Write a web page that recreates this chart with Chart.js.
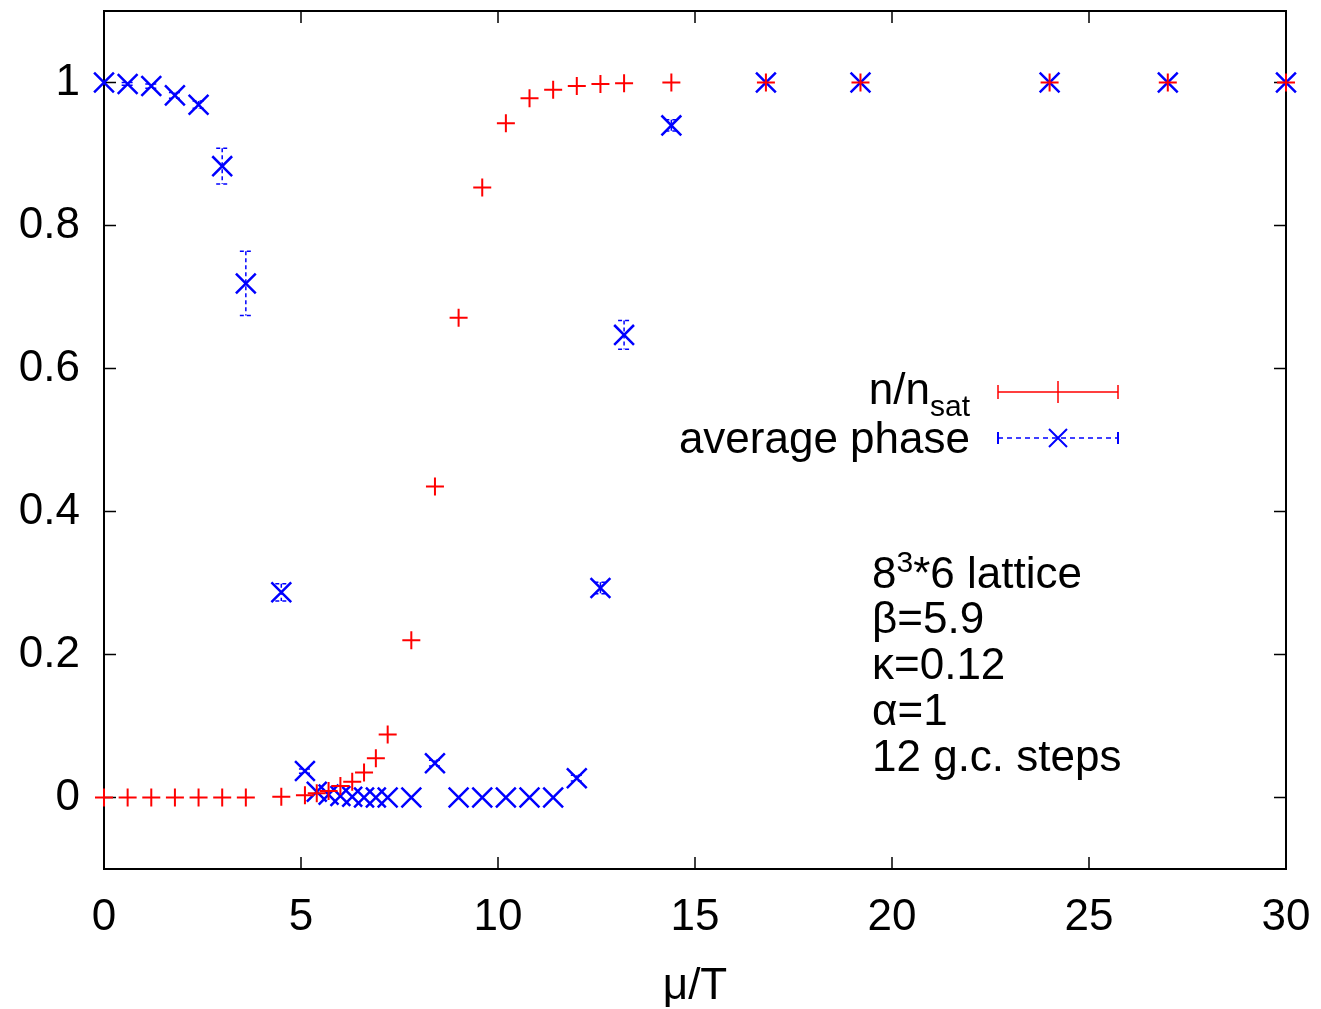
<!DOCTYPE html>
<html>
<head>
<meta charset="utf-8">
<script src="https://cdn.jsdelivr.net/npm/chart.js@4/dist/chart.umd.min.js"></script>
<style>
  html, body { margin: 0; padding: 0; background: #fff; }
  #wrap { width: 1321px; height: 1009px; }
</style>
</head>
<body>
<div id="wrap"><canvas id="myChart" width="1321" height="1009"></canvas></div>
<script>
// mu/T values (shared by both series)
const muT = [0, 0.6, 1.2, 1.8, 2.4, 3.0, 3.6, 4.5, 5.1, 5.4, 5.7, 6.0, 6.3, 6.6, 6.9, 7.2,
  7.8, 8.4, 9.0, 9.6, 10.2, 10.8, 11.4, 12.0, 12.6, 13.2, 14.4, 16.8, 19.2, 24, 27, 30]

// n / n_sat
const nRatio = [0, 0, 0, 0, 0, 0, 0, 0.001, 0.003, 0.006, 0.009, 0.016, 0.022, 0.035, 0.055, 0.088,
  0.22, 0.435, 0.671, 0.853, 0.943, 0.978, 0.99, 0.995, 0.998, 0.999, 1, 1, 1, 1, 1, 1]

// average phase and its error
const avgPhase = [1.0, 0.998, 0.995, 0.982, 0.969, 0.883, 0.719, 0.287, 0.037, 0.008, 0.004, 0.002, 0.001, 0, 0, 0,
  0, 0.048, 0, 0, 0, 0, 0, 0.027, 0.293, 0.647, 0.94, 1, 1, 1, 1, 1]
const phaseErr = [0, 0.002, 0.003, 0.004, 0.005, 0.025, 0.045, 0.012, 0.003, 0, 0, 0, 0, 0, 0, 0,
  0, 0.004, 0, 0, 0, 0, 0, 0.004, 0.008, 0.02, 0.008, 0, 0, 0, 0, 0]

const xTicks = [0, 5, 10, 15, 20, 25, 30]
const yTicks = [0, 0.2, 0.4, 0.6, 0.8, 1]

const infoLines = ['β=5.9', 'κ=0.12', 'α=1', '12 g.c. steps']

const RED = 'rgb(255,0,0)'
const BLUE = 'rgb(0,0,255)'
const FONT = '"Liberation Sans", Arial, Helvetica, sans-serif'

const toPoints = (ys) => muT.map((x, i) => ({x: x, y: ys[i]}))

// frame and inside ticks go under the marks
const frame = {
    id: 'frame',
    beforeDatasetsDraw(chart) {
        const ctx = chart.ctx
        const xs = chart.scales.x
        const ys = chart.scales.y
        const a = chart.chartArea
        ctx.save()
        ctx.strokeStyle = '#000'
        ctx.lineWidth = 2
        ctx.strokeRect(a.left, a.top, a.right - a.left, a.bottom - a.top)

        ctx.lineWidth = 1.5
        ctx.beginPath()
        xTicks.forEach(v => {
            const px = xs.getPixelForValue(v)
            ctx.moveTo(px, a.bottom); ctx.lineTo(px, a.bottom - 12)
            ctx.moveTo(px, a.top); ctx.lineTo(px, a.top + 12)
        })
        yTicks.forEach(v => {
            const py = ys.getPixelForValue(v)
            ctx.moveTo(a.left, py); ctx.lineTo(a.left + 12, py)
            ctx.moveTo(a.right, py); ctx.lineTo(a.right - 12, py)
        })
        ctx.stroke()
        ctx.restore()
    }
}

// error bars, legend and text block
const decorations = {
    id: 'decorations',
    afterDatasetsDraw(chart) {
        const ctx = chart.ctx
        const xs = chart.scales.x
        const ys = chart.scales.y
        ctx.save()

        // error bars for the average phase
        ctx.strokeStyle = BLUE
        ctx.lineWidth = 1.5
        ctx.setLineDash([4, 3])
        for (let i = 0; i < muT.length; i++) {
            if (phaseErr[i] <= 0) continue
            const px = xs.getPixelForValue(muT[i])
            const top = ys.getPixelForValue(avgPhase[i] + phaseErr[i])
            const bot = ys.getPixelForValue(avgPhase[i] - phaseErr[i])
            ctx.beginPath()
            ctx.moveTo(px, top); ctx.lineTo(px, bot)
            ctx.moveTo(px - 6, top); ctx.lineTo(px + 6, top)
            ctx.moveTo(px - 6, bot); ctx.lineTo(px + 6, bot)
            ctx.stroke()
        }
        ctx.setLineDash([])

        // legend
        ctx.fillStyle = '#000'
        ctx.textBaseline = 'alphabetic'
        ctx.textAlign = 'left'
        const mainFont = '44px ' + FONT
        const subFont = '30px ' + FONT
        const textRight = 970
        ctx.font = subFont
        const wSub = ctx.measureText('sat').width
        ctx.font = mainFont
        const wMain = ctx.measureText('n/n').width
        ctx.fillText('n/n', textRight - wSub - wMain, 404)
        ctx.font = subFont
        ctx.fillText('sat', textRight - wSub, 416)
        ctx.font = mainFont
        ctx.textAlign = 'right'
        ctx.fillText('average phase', textRight, 453)

        const l0 = 998, l1 = 1118, lm = 1058
        // red sample
        ctx.strokeStyle = RED
        ctx.lineWidth = 1.5
        ctx.beginPath()
        ctx.moveTo(l0, 392); ctx.lineTo(l1, 392)
        ctx.moveTo(l0, 385); ctx.lineTo(l0, 399)
        ctx.moveTo(l1, 385); ctx.lineTo(l1, 399)
        ctx.moveTo(lm, 381); ctx.lineTo(lm, 403)
        ctx.stroke()
        // blue sample
        ctx.strokeStyle = BLUE
        ctx.setLineDash([5, 4])
        ctx.beginPath()
        ctx.moveTo(l0, 438); ctx.lineTo(l1, 438)
        ctx.stroke()
        ctx.setLineDash([])
        ctx.lineWidth = 2
        ctx.beginPath()
        ctx.moveTo(l0, 432); ctx.lineTo(l0, 444)
        ctx.moveTo(l1, 432); ctx.lineTo(l1, 444)
        ctx.moveTo(lm - 9, 429); ctx.lineTo(lm + 9, 447)
        ctx.moveTo(lm - 9, 447); ctx.lineTo(lm + 9, 429)
        ctx.stroke()

        // parameter block
        ctx.textAlign = 'left'
        ctx.fillStyle = '#000'
        const bx = 872
        ctx.font = mainFont
        ctx.fillText('8', bx, 588)
        let w = ctx.measureText('8').width
        ctx.font = subFont
        ctx.fillText('3', bx + w, 572)
        w += ctx.measureText('3').width
        ctx.font = mainFont
        ctx.fillText('*6 lattice', bx + w, 588)
        infoLines.forEach((t, i) => {
            ctx.fillText(t, bx, 633 + i * 46)
        })

        ctx.restore()
    }
}

const ctx = document.getElementById('myChart').getContext('2d')

const myChart = new Chart(ctx, {
    type: 'scatter',
    data: {
        datasets: [{
            label: 'n/n_sat',
            data: toPoints(nRatio),
            pointStyle: 'cross',
            pointRadius: 9,
            pointHoverRadius: 9,
            borderColor: RED,
            backgroundColor: RED,
            borderWidth: 2,
            showLine: false,
            clip: false
        }, {
            label: 'average phase',
            data: toPoints(avgPhase),
            pointStyle: 'crossRot',
            pointRadius: 14,
            pointHoverRadius: 14,
            borderColor: BLUE,
            backgroundColor: BLUE,
            borderWidth: 2.5,
            showLine: false,
            clip: false
        }]
    },
    options: {
        responsive: false,
        animation: false,
        layout: { autoPadding: false, padding: { top: 11, right: 35, left: 0, bottom: 0 } },
        plugins: {
            legend: { display: false },
            tooltip: { enabled: false }
        },
        scales: {
            x: {
                type: 'linear',
                min: 0,
                max: 30,
                afterBuildTicks: (s) => { s.ticks = xTicks.map(v => ({value: v})) },
                afterFit: (s) => {
                    s.height = 140
                    s.paddingLeft = 0
                    s.paddingRight = 0
                },
                grid: { display: false },
                border: { display: false },
                ticks: {
                    color: '#000',
                    padding: 14,
                    maxRotation: 0,
                    font: { family: FONT, size: 44 }
                },
                title: {
                    display: true,
                    text: 'μ/T',
                    color: '#000',
                    font: { family: FONT, size: 44, lineHeight: 1 },
                    padding: { top: 0, bottom: 0 }
                }
            },
            y: {
                type: 'linear',
                min: -0.1,
                max: 1.1,
                afterBuildTicks: (s) => { s.ticks = yTicks.map(v => ({value: v})) },
                afterFit: (s) => {
                    s.width = 104
                    s.paddingTop = 0
                    s.paddingBottom = 0
                },
                grid: { display: false },
                border: { display: false },
                ticks: {
                    color: '#000',
                    padding: 16,
                    font: { family: FONT, size: 44 },
                    callback: (v) => String(Math.round(v * 10) / 10)
                }
            }
        }
    },
    plugins: [frame, decorations]
})
</script>
</body>
</html>
